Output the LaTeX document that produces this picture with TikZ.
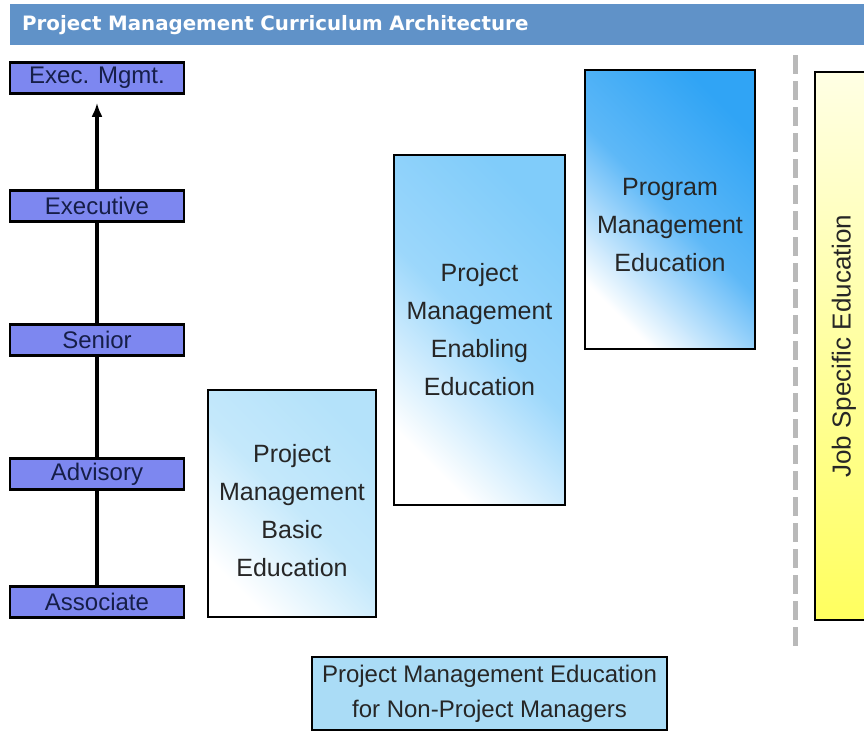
\documentclass[tikz,border=0pt]{standalone}
\usepackage{fontspec}
\setmainfont{Liberation Sans}
\newfontfamily\titlefont{DejaVu Sans}
\usepackage{xcolor}
\usetikzlibrary{arrows.meta}
\definecolor{titleblue}{RGB}{96,146,200}
\definecolor{levelblue}{RGB}{125,135,240}
\definecolor{levelnavy}{RGB}{22,30,72}
\definecolor{basicblue}{RGB}{180,226,250}
\definecolor{enablingblue}{RGB}{128,204,250}
\definecolor{programblue}{RGB}{48,164,245}
\definecolor{dashgray}{RGB}{185,185,185}
\definecolor{jobyellow}{RGB}{255,255,95}
\definecolor{jobpale}{RGB}{255,255,228}
\definecolor{nonpmblue}{RGB}{170,220,246}

\begin{document}
\begin{tikzpicture}[x=1pt, y=-1pt,
                        level/.style={draw=black, line width=2.5pt, fill=levelblue, text=levelnavy, minimum width=174pt, minimum height=31pt, inner sep=0pt, font=\fontsize{24}{24}\selectfont},
                        rung/.style={line width=4pt},
                        course/.style={draw=black, line width=2.2pt, top color=#1, bottom color=white, middle color=#1!78, shading angle=-45, inner sep=0pt},
                        coursetext/.style={align=center, text=black!85, font=\fontsize{25}{38}\selectfont}]
                        \useasboundingbox (0,0) rectangle (864,732);
                        \clip (0,0) rectangle (864,732);
                        \fill[white] (0,0) rectangle (864,732);
                        \node[anchor=north west, fill=titleblue, text=white, minimum height=41pt, text width=846pt, inner xsep=12pt, align=left, font=\titlefont\bfseries\fontsize{19.8}{20}\selectfont] (title) at (10,4) {Project Management Curriculum Architecture};
                        \foreach \name/\lbl/\y in {execmgmt/Exec. Mgmt./78, executive/Executive/206, senior/Senior/340, advisory/Advisory/474, associate/Associate/602}
                        \node[level] (\name) at (97,\y) {\lbl};
                        \foreach \lower/\upper in {associate/advisory, advisory/senior, senior/executive}
                        \draw[rung] (\lower.north) -- (\upper.south);
                        \draw[rung, -{Latex[length=14pt,width=11pt]}, shorten >=8pt] (executive.north) -- (execmgmt.south);
                        \node[course=basicblue, minimum width=168pt, minimum height=227pt,
                        label={[coursetext, yshift=-7pt]center:Project\\Management\\Basic\\Education}] (basic) at (292,503.5) {};
                        \node[course=enablingblue, minimum width=171pt, minimum height=350pt,
                        label={[coursetext]center:Project\\Management\\Enabling\\Education}] (enabling) at (479.5,330) {};
                        \node[course=programblue, minimum width=170pt, minimum height=279pt,
                        label={[coursetext, yshift=-16pt]center:Program\\Management\\Education}] (program) at (670,209.5) {};
                        \draw[dashgray, line width=5pt, dash pattern=on 19pt off 7pt] (795,55) -- (795,648);
                        \node[draw=black, line width=2.2pt, top color=jobpale, bottom color=jobyellow, minimum width=58pt, minimum height=548pt, inner sep=0pt,
                        label={[rotate=90, font=\fontsize{26}{26}\selectfont, text=black!85]center:Job Specific Education}] (jobspecific) at (844,346) {};
                        \node[draw=black, line width=2.2pt, fill=nonpmblue, minimum width=355pt, minimum height=73pt, align=center, inner sep=0pt, text=black!85, font=\fontsize{24}{35}\selectfont] (nonpm) at (489.5,693.5) {Project Management Education\\for Non-Project Managers};
                    \end{tikzpicture}
\end{document}
